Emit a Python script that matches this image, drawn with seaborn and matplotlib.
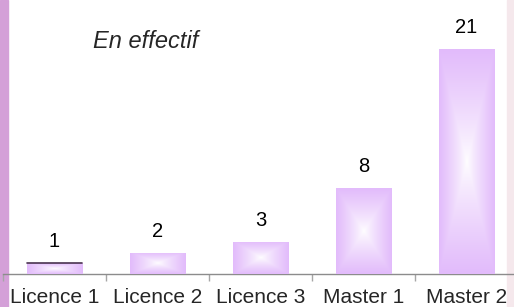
import numpy as np
import pandas as pd
import matplotlib
matplotlib.use("Agg")
import matplotlib.pyplot as plt
import seaborn as sns
from matplotlib.colors import to_rgb

categories = ["Licence 1", "Licence 2", "Licence 3", "Master 1", "Master 2"]
values = [1, 2, 3, 8, 21]
title_text = "En effectif"

sns.set_style("white")
plt.rcParams["font.family"] = ["Liberation Sans", "DejaVu Sans"]

fig = plt.figure(figsize=(5.14, 3.07), dpi=100)
fig.patches.append(plt.Rectangle((0, 0), 8 / 514, 1, transform=fig.transFigure,
                                 color="#D4A0D8", zorder=0))
fig.patches.append(plt.Rectangle((507 / 514, 0), 7 / 514, 1, transform=fig.transFigure,
                                 color="#F5E8EC", zorder=0))

ax = fig.add_axes([3 / 514, 33 / 307, 515 / 514, 274 / 307])
ax.set_zorder(1)

df = pd.DataFrame({"cat": categories, "val": values})
sns.barplot(data=df, x="cat", y="val", ax=ax, width=0.534, color="#E2BCFB",
            edgecolor="none", linewidth=0)
ax.patch.set_visible(False)

ymax = 274 / (225 / 21)
ax.set_xlim(-0.5, len(categories) - 0.5)
ax.set_ylim(0, ymax)

edge = np.array(to_rgb("#E2BBFB"))
white = np.array([1.0, 1.0, 1.0])
n = 200
u = np.linspace(-1, 1, n)
U, V = np.meshgrid(u, u)
T = np.maximum(np.abs(U), np.abs(V))
T = np.clip(T, 0, 1) ** 0.8
img = white[None, None, :] * (1 - T[..., None]) + edge[None, None, :] * T[..., None]

for i, p in enumerate(ax.patches):
    x0, y0 = p.get_x(), p.get_y()
    w, h = p.get_width(), p.get_height()
    im = ax.imshow(img, extent=[x0, x0 + w, y0, y0 + h], aspect="auto",
                   zorder=3, interpolation="bilinear")
    im.set_clip_path(p)
    ax.annotate(str(values[i]), xy=(x0 + w / 2, y0 + h), xytext=(0, 11.5),
                textcoords="offset points", ha="center", va="baseline",
                fontsize=14.5, color="black", zorder=5)
    if i == 0:
        ax.plot([x0, x0 + w], [y0 + h, y0 + h], color="#4A3450", lw=1.2, zorder=4)

ax.set_aspect("auto")
ax.set_xlim(-0.5, len(categories) - 0.5)
ax.set_ylim(0, ymax)

for s in ["top", "right", "left"]:
    ax.spines[s].set_visible(False)
ax.spines["bottom"].set_color("#8C8C8C")
ax.spines["bottom"].set_linewidth(1.0)
ax.set_yticks([])
ax.set_xlabel("")
ax.set_ylabel("")

ax.set_xticks(np.arange(-0.5, len(categories)), minor=False)
ax.set_xticklabels([""] * (len(categories) + 1))
ax.set_xticks(np.arange(len(categories)), minor=True)
ax.set_xticklabels(categories, minor=True, fontsize=15)
ax.tick_params(axis="x", which="major", direction="out", length=5, width=1,
               color="#A6A6A6", bottom=True)
ax.tick_params(axis="x", which="minor", length=0, pad=10)

ax.text((93 - 3) / 515, 0.848, title_text, transform=ax.transAxes, fontsize=17,
        style="italic", ha="left", va="center")

fig.savefig("out.png", dpi=100)
